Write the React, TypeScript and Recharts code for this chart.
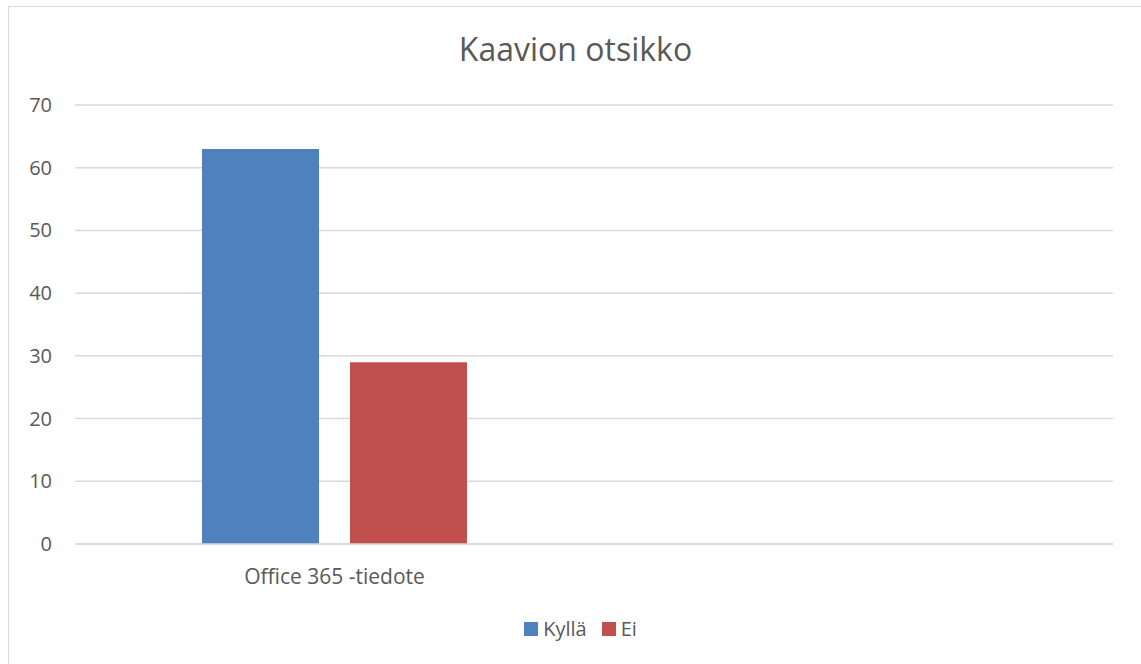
import { BarChart, Bar, XAxis, YAxis, CartesianGrid } from 'recharts';

const categories = ['Office 365 -tiedote', ''];
const kylla = [63, null];
const ei = [29, null];
const yTicks = [0, 10, 20, 30, 40, 50, 60, 70];

const data = categories.map((name, i) => ({ name, kylla: kylla[i], ei: ei[i] }));

const font = '"Open Sans", "Liberation Sans", sans-serif';
const textColor = '#595959';

function YTick(props: any) {
  const { x, y, payload } = props;
  return (
    <text x={x} y={y} dy={7} textAnchor="end" fill={textColor} fontSize={20} fontFamily={font}>
      {payload.value}
    </text>
  );
}

export default function App() {
  return (
    <div style={{ position: 'absolute', left: 0, top: 0, width: 1141, height: 664, background: '#fff', overflow: 'hidden', fontFamily: font }}>
      <div
        style={{
          position: 'absolute',
          left: 8,
          top: 6,
          width: 1150,
          height: 680,
          border: '1px solid #d9d9d9',
        }}
      />
      <div
        style={{
          position: 'absolute',
          left: 0,
          width: 1151,
          top: 27,
          textAlign: 'center',
          fontSize: 32,
          color: textColor,
          lineHeight: '44px',
        }}
      >
        Kaavion otsikko
      </div>
      <div style={{ position: 'absolute', left: 0, top: 0 }}>
        <BarChart
          width={1141}
          height={664}
          data={data}
          margin={{ top: 105, right: 28, bottom: 80, left: 0 }}
          barSize={117}
          barGap={31}
        >
          <CartesianGrid vertical={false} stroke="#d9d9d9" strokeWidth={1.5} />
          <XAxis
            dataKey="name"
            height={40}
            axisLine={{ stroke: '#d9d9d9', strokeWidth: 1.5 }}
            tickLine={false}
            tickMargin={19}
            tick={{ fill: textColor, fontSize: 21, fontFamily: font }}
          />
          <YAxis
            width={75}
            domain={[0, 70]}
            ticks={yTicks}
            axisLine={false}
            tickLine={false}
            tickMargin={17}
            tick={<YTick />}
          />
          <Bar dataKey="kylla" fill="#4f81bd" isAnimationActive={false} />
          <Bar dataKey="ei" fill="#c0504d" isAnimationActive={false} />
        </BarChart>
      </div>
      <div
        style={{
          position: 'absolute',
          left: 10,
          width: 1141,
          top: 615,
          display: 'flex',
          justifyContent: 'center',
          alignItems: 'center',
          fontSize: 20,
          color: textColor,
          lineHeight: '28px',
        }}
      >
        <span style={{ display: 'inline-block', width: 14, height: 14, background: '#4f81bd', marginRight: 5 }} />
        <span style={{ marginRight: 15 }}>Kyllä</span>
        <span style={{ display: 'inline-block', width: 14, height: 14, background: '#c0504d', marginRight: 5 }} />
        <span>Ei</span>
      </div>
    </div>
  );
}
